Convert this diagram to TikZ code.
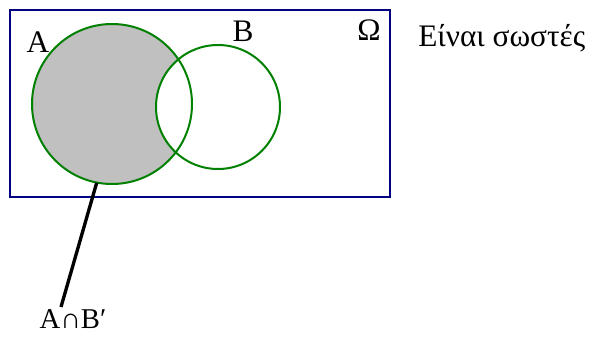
\documentclass[tikz,border=0pt]{standalone}
\usepackage{fontspec}
\setmainfont{Liberation Serif}
\usepackage{xcolor}
\usetikzlibrary{positioning}
\definecolor{setgreen}{RGB}{0,128,0}
\definecolor{framenavy}{RGB}{0,0,128}
\definecolor{shadegray}{RGB}{192,192,192}

\begin{document}
\begin{tikzpicture}[
        x=0.75pt, y=-0.75pt,
        set/.style={circle, inner sep=0pt, minimum size=#1},
        setline/.style={draw=setgreen, line width=1.5pt},
        lbl/.style={font=\fontsize{23.5}{26}\selectfont, inner sep=0pt},
        arr/.style={line width=2.5pt, black}
      ]
      \useasboundingbox (0,0) rectangle (592,336);
      \node[draw=framenavy, line width=1.5pt, minimum width=285pt, minimum height=140pt, inner sep=0pt] (omega) at (200,103.5) {};
      \node[set=120pt, fill=shadegray] (setA) at (112,104) {};
      \node[set=93pt, fill=white, setline] (setB) at (218,107) {};
      \draw[setline] (setA.center) circle[radius=80];
      \node[lbl] (labA) at (38,42) {A};
      \node[lbl] (labB) at (243,31) {B};
      \node[lbl] (labO) at (369,30) {Ω};
      \node[lbl, anchor=base west] (txt) at (418,46) {Είναι σωστές};
      \node[lbl, font=\fontsize{21.5}{24}\selectfont] (diff) at (73,319) {A∩B′};
      \coordinate (tip) at (61,307);
      \draw[arr] (setA.-101) -- (tip);
    \end{tikzpicture}
\end{document}
